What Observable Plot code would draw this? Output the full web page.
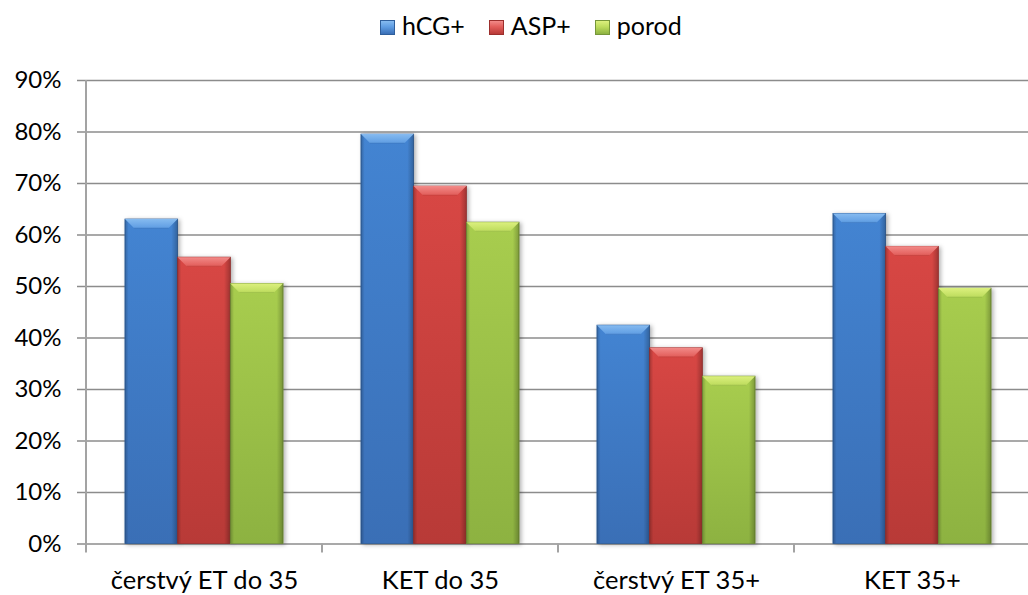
<!DOCTYPE html>
<html>
<head>
<meta charset="utf-8">
<script src="https://cdn.jsdelivr.net/npm/d3@7"></script>
<script src="https://cdn.jsdelivr.net/npm/@observablehq/plot@0.6"></script>
<style>
  html, body { margin: 0; padding: 0; background: #fff; overflow: hidden; }
  body { font-family: Lato, "Open Sans", sans-serif; color: #000; }
  #legend { height: 50px; display: flex; align-items: center; padding-left: 380px; font-size: 25px; box-sizing: border-box; }
  #legend .item { display: flex; align-items: center; margin-right: 24px; }
  #legend .sw { width: 15px; height: 15px; margin-right: 7px; margin-top: 5px; box-sizing: border-box; border: 1px solid; }
  #chart svg { display: block; overflow: visible; }
  #chart svg g[aria-label="x-axis tick label"] text { font-size: 25.5px; }
</style>
</head>
<body>
<div id="legend"></div>
<div id="chart"></div>
<script>
// Transfer groups and outcome rates (%)
const categories = ["čerstvý ET do 35", "KET do 35", "čerstvý ET 35+", "KET 35+"];
const series = ["hCG+", "ASP+", "porod"];
const hcgValues = [63.0, 79.5, 42.4, 64.1];
const aspValues = [55.6, 69.4, 38.0, 57.7];
const porodValues = [50.5, 62.4, 32.5, 49.6];
const yTicks = [0, 10, 20, 30, 40, 50, 60, 70, 80, 90];

// Bar palette: body top, body bottom, bevel light, bevel mid, outline
const palette = [
  {top: "#4384d2", bottom: "#3a6fb6", light: "#86bbf0", mid: "#5f9de3", line: "#2f5f9c"},
  {top: "#d84744", bottom: "#b83a37", light: "#f28a88", mid: "#e25d5a", line: "#9c2f2d"},
  {top: "#a8cd4e", bottom: "#8db241", light: "#dcf07e", mid: "#bddc5d", line: "#76963a"}
];

const valuesBySeries = [hcgValues, aspValues, porodValues];
const rows = categories.flatMap((c, i) =>
  series.map((s, j) => ({category: c, series: s, si: j, value: valuesBySeries[j][i]}))
);

// Legend
const legend = d3.select("#legend");
series.forEach((s, j) => {
  const item = legend.append("div").attr("class", "item");
  item.append("div").attr("class", "sw")
    .style("background", `linear-gradient(to bottom, ${palette[j].light} 0%, ${palette[j].mid} 45%, ${palette[j].bottom} 100%)`)
    .style("border-color", palette[j].line);
  item.append("span").text(s);
});

// Layout
const width = 1028, height = 545;
const marginLeft = 86, marginTop = 30, marginBottom = 51.5;
const xRange = [86, 1030];
const bw = (xRange[1] - xRange[0]) / categories.length;
const groupInset = bw * 0.165;
const barW = (bw - 2 * groupInset) / series.length;
const bevel = 9;

const insetFor = j => ({
  insetLeft: groupInset + barW * j,
  insetRight: bw - groupInset - barW * (j + 1)
});

const barMarks = series.flatMap((s, j) => {
  const data = rows.filter(r => r.si === j);
  return [
    Plot.barY(data, {x: "category", y: "value", fill: `url(#body${j})`, stroke: palette[j].line, strokeWidth: 0.8, ...insetFor(j)}),
    Plot.barY(data, {x: "category", y: "value", fill: "url(#edge)", ...insetFor(j)})
  ];
});

// Bevel caps on bar tops, plus axis line and category boundary ticks
function decorations(index, scales) {
  const {x, y} = scales;
  const g = d3.create("svg:g");
  for (const r of rows) {
    const x0 = x(r.category) + groupInset + barW * r.si;
    const x1 = x0 + barW;
    const y0 = y(r.value);
    g.append("polygon")
      .attr("points", [[x0, y0], [x1, y0], [x1 - bevel, y0 + bevel], [x0 + bevel, y0 + bevel]].map(p => p.join(",")).join(" "))
      .attr("fill", `url(#cap${r.si})`);
    g.append("line")
      .attr("x1", x0 + bevel).attr("x2", x1 - bevel)
      .attr("y1", y0 + bevel).attr("y2", y0 + bevel)
      .attr("stroke", palette[r.si].line).attr("stroke-opacity", 0.35).attr("stroke-width", 0.8);
  }
  const base = y(0);
  const left = x(categories[0]);
  g.append("line")
    .attr("x1", left).attr("x2", left)
    .attr("y1", y(yTicks[yTicks.length - 1])).attr("y2", base + 9)
    .attr("stroke", "#a3a3a3").attr("stroke-width", 2);
  for (const c of categories.slice(1)) {
    const xb = x(c);
    g.append("line")
      .attr("x1", xb).attr("x2", xb)
      .attr("y1", base).attr("y2", base + 9)
      .attr("stroke", "#a3a3a3").attr("stroke-width", 2);
  }
  return g.node();
}

const chart = Plot.plot({
  width, height, marginLeft, marginTop, marginBottom, marginRight: 0,
  style: {fontFamily: "Lato, 'Open Sans', sans-serif", fontSize: "24px", color: "#000", background: "#fff", overflow: "visible"},
  x: {domain: categories, range: xRange, padding: 0, label: null, tickSize: 0, tickPadding: 27},
  y: {domain: [0, 90], ticks: yTicks, tickFormat: d => d + "%", label: null, tickSize: 0, tickPadding: 25},
  marks: [
    Plot.ruleY(yTicks, {stroke: "#8c8c8c", strokeWidth: 1.6, insetLeft: -9}),
    ...barMarks,
    decorations
  ]
});

const svg = d3.select(chart);
const defs = svg.insert("defs", ":first-child");
palette.forEach((p, j) => {
  const body = defs.append("linearGradient").attr("id", `body${j}`).attr("x1", 0).attr("y1", 0).attr("x2", 0).attr("y2", 1);
  body.append("stop").attr("offset", "0%").attr("stop-color", p.top);
  body.append("stop").attr("offset", "100%").attr("stop-color", p.bottom);
  const cap = defs.append("linearGradient").attr("id", `cap${j}`).attr("x1", 0).attr("y1", 0).attr("x2", 0).attr("y2", 1);
  cap.append("stop").attr("offset", "0%").attr("stop-color", p.light);
  cap.append("stop").attr("offset", "100%").attr("stop-color", p.mid);
});
const edge = defs.append("linearGradient").attr("id", "edge").attr("x1", 0).attr("y1", 0).attr("x2", 1).attr("y2", 0);
[[0, 0.22], [0.07, 0.0], [0.88, 0.0], [1, 0.25]].forEach(([o, a]) =>
  edge.append("stop").attr("offset", o).attr("stop-color", "#000").attr("stop-opacity", a));

// Soft shadow behind the bar bodies
svg.selectAll("g[aria-label='bar']")
  .each(function (d, i) { if (i % 2 === 0) d3.select(this).style("filter", "drop-shadow(2px 1px 2px rgba(0,0,0,0.3))"); });

document.getElementById("chart").appendChild(chart);
</script>
</body>
</html>
